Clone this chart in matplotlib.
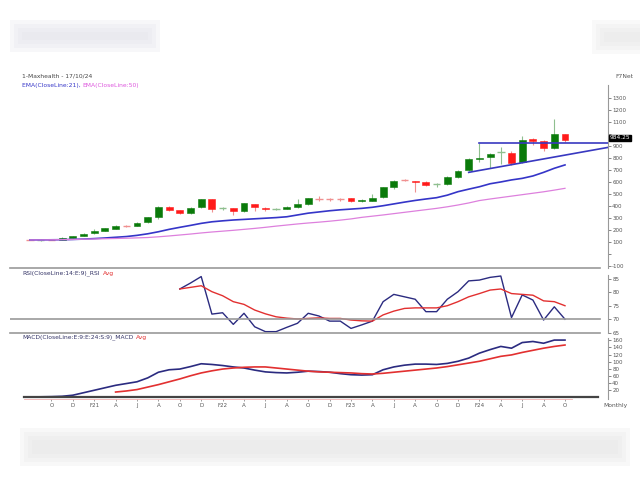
import numpy as np
import matplotlib
matplotlib.use('Agg')
from matplotlib import pyplot as plt
from matplotlib.patches import Rectangle
from matplotlib.lines import Line2D

# monthly candles Aug-2020 .. Oct-2024
opens = [118, 116, 121, 115, 137, 150, 172, 191, 212, 234, 233, 264, 311, 394, 364, 340, 389,
         456, 378, 381, 358, 414, 386, 374, 378, 389, 417, 464, 458, 456, 467, 439, 444, 472,
         556, 620, 608, 600, 579, 583, 639, 700, 789, 806, 850, 844, 769, 956, 942, 881, 997]
highs = [120, 122, 122, 138, 152, 171, 212, 216, 240, 238, 263, 308, 396, 398, 367, 390, 462,
         460, 392, 384, 428, 417, 390, 382, 398, 456, 470, 480, 465, 468, 470, 456, 500, 562,
         620, 625, 612, 606, 595, 650, 700, 800, 922, 838, 894, 855, 983, 965, 950, 1122, 1000]
lows = [114, 112, 113, 113, 134, 148, 168, 188, 208, 228, 230, 262, 290, 360, 330, 335, 380,
        350, 370, 328, 352, 355, 358, 370, 372, 380, 408, 445, 442, 440, 432, 435, 440, 466,
        545, 605, 514, 565, 560, 578, 632, 690, 770, 714, 753, 745, 762, 910, 862, 875, 935]
closes = [117, 120, 115, 136, 150, 168, 191, 213, 236, 232, 260, 305, 394, 367, 338, 386, 456,
          376, 382, 355, 422, 390, 378, 377, 394, 417, 464, 460, 455, 454, 439, 450, 469, 556,
          608, 615, 600, 575, 583, 642, 692, 789, 797, 831, 855, 761, 947, 939, 881, 997, 950]

ema21 = [117, 117, 118, 119, 121, 124, 128, 133, 139, 145, 155, 168, 185, 205, 222, 238, 255,
         268, 276, 283, 288, 293, 298, 303, 310, 325, 340, 350, 360, 368, 374, 380, 389, 402,
         417, 432, 446, 458, 469, 490, 519, 540, 560, 585, 600, 617, 630, 650, 680, 714, 742]
ema50 = [117, 117, 118, 119, 121, 123, 125, 127, 129, 131, 134, 137, 143, 150, 158, 166, 175,
         183, 190, 197, 205, 213, 222, 232, 241, 250, 258, 265, 273, 282, 292, 305, 315, 325,
         336, 347, 358, 369, 380, 393, 408, 425, 445, 458, 470, 482, 494, 506, 518, 532, 547]

# RSI starts Oct-2021 (index 14)
rsi = [81.3, 83.5, 85.9, 72.0, 72.5, 68.2, 72.3, 67.3, 65.5, 65.5, 67.1, 68.6, 72.3, 71.3,
       69.4, 69.4, 66.7, 68.0, 69.4, 76.6, 79.3, 78.4, 77.5, 72.9, 72.9, 77.5, 80.3, 84.3,
       84.6, 85.6, 86.1, 70.7, 79.1, 77.2, 69.8, 74.7, 70.1]
rsi_avg = [81.3, 81.9, 82.5, 80.3, 78.8, 76.6, 75.6, 73.5, 72.1, 71.0, 70.5, 70.2, 70.4, 70.6,
           70.4, 70.4, 69.8, 69.5, 69.4, 71.7, 73.1, 74.1, 74.3, 74.3, 74.3, 75.1, 76.6, 78.4,
           79.6, 80.9, 81.3, 79.6, 79.3, 79.0, 76.9, 76.6, 75.1]

macd = [0, 0.5, 1, 2, 5, 12, 19, 26, 33, 38, 43, 54, 70, 77, 79, 86, 94, 92, 89, 85, 82, 76,
        71, 69, 68, 70, 73, 72, 70, 66, 63, 62, 63, 77, 85, 90, 93, 93, 92, 95, 101, 110, 124,
        134, 143, 138, 154, 157, 152, 161, 161]
# signal starts Apr-2021 (index 8)
macd_avg = [14, 17, 21, 28, 35, 43, 51, 60, 68, 74, 79, 82, 84, 85, 85, 82, 79, 76, 73, 71,
            70, 69, 68, 66, 65, 67, 70, 73, 76, 79, 82, 86, 91, 96, 101, 108, 115, 119, 126,
            132, 138, 143, 147]

month_labels = ['O', 'D', 'F21', 'A', 'J', 'A', 'O', 'D', 'F22', 'A', 'J', 'A', 'O', 'D',
                'F23', 'A', 'J', 'A', 'O', 'D', 'F24', 'A', 'J', 'A', 'O']

W, H = 640, 479
fig = plt.figure(figsize=(6.4, 4.79), dpi=100)


def fx(px):
    return px / W


def fy(py):
    return 1 - py / H


# soft blurred bands of the page around the chart
def band(x, y, w, h, col):
    for k in range(4):
        d = 4 * k
        fig.patches.append(Rectangle((fx(x + d), fy(y + h - d)), fx(w - 2 * d), fy(y + d) - fy(y + h - d),
                                     transform=fig.transFigure, color=col, alpha=0.25, lw=0, zorder=0))


band(10, 20, 150, 32, '#e2e2ea')
band(592, 20, 60, 34, '#e8e8e8')
band(20, 428, 610, 38, '#e6e6e6')

left = fx(10)
width = fx(608) - left
x0 = (10 - 30) / 10.7
x1 = (608 - 30) / 10.7

ax1 = fig.add_axes([left, fy(268), width, fy(85) - fy(268)])
ax2 = fig.add_axes([left, fy(333), width, fy(268) - fy(333)], sharex=ax1)
ax3 = fig.add_axes([left, fy(399), width, fy(333) - fy(399)], sharex=ax1)

for a in (ax1, ax2, ax3):
    a.patch.set_alpha(0)
    for s in ('top', 'left', 'bottom'):
        a.spines[s].set_visible(False)
    a.spines['right'].set_color('#999999')
    a.spines['right'].set_linewidth(0.8)
    a.yaxis.tick_right()
    a.tick_params(axis='y', labelsize=4, colors='#555555', length=2, width=0.5, pad=1)
    a.tick_params(axis='x', bottom=False, labelbottom=False)

ax1.set_xlim(x0, x1)

# candles
x = np.arange(len(opens))
for i in x:
    o, h, l, c = opens[i], highs[i], lows[i], closes[i]
    up = c >= o
    body = '#0a7a0a' if up else '#ff1a1a'
    wick = '#8fbf8f' if up else '#f09090'
    doji = abs(c - o) < 8
    ax1.vlines(i, l, h, color=wick, lw=0.8, zorder=2)
    if doji:
        ax1.hlines((o + c) / 2, i - 0.35, i + 0.35, color=wick, lw=1.0, zorder=2)
    else:
        ax1.bar(i, abs(c - o), bottom=min(o, c), width=0.65, color=body, edgecolor=body,
                lw=0.4, zorder=3)

ax1.plot(x, ema21, color='#3535c8', lw=1.2, zorder=4)
ax1.plot(x, ema50, color='#dd80dd', lw=0.9, zorder=4)
# trendlines
ax1.plot([41, x1], [680, 888], color='#3838c0', lw=1.2, zorder=5)
ax1.plot([42, x1], [922, 922], color='#3838c0', lw=1.2, zorder=5)

ax1.set_ylim(-117, 1408)
pt = [-100, 0, 100, 200, 300, 400, 500, 600, 700, 800, 900, 1000, 1100, 1200, 1300]
ax1.set_yticks(pt)
# 0 has no label; 1000 sits under the last-price box
ax1.set_yticklabels(['' if v in (0, 1000) else str(v) for v in pt])
ax1.text(1.003, 967, '984.25', transform=ax1.get_yaxis_transform(), fontsize=4.2,
         color='white', va='center', ha='left', zorder=10,
         bbox=dict(boxstyle='square,pad=0.15', fc='black', ec='black'))

# RSI
xr = np.arange(14, 14 + len(rsi))
ax2.plot(xr, rsi, color='#2b2b80', lw=1.0)
ax2.plot(xr, rsi_avg, color='#e23030', lw=1.0)
ax2.axhline(70, xmin=0, xmax=(600 - 10) / (608 - 10), color='#999999', lw=1.2)
ax2.set_ylim(65, 89.07)
ax2.set_yticks([65, 70, 75, 80, 85])
ax2.spines['right'].set_bounds(65, 86.5)

# MACD
ax3.plot(x, macd, color='#2b2b80', lw=1.2)
xm = np.arange(8, 8 + len(macd_avg))
ax3.plot(xm, macd_avg, color='#e23030', lw=1.2)
ax3.axhline(0, xmin=(24 - 10) / 598, xmax=(598 - 10) / 598, color='#444444', lw=1.6)
ax3.set_ylim(-5.7, 181)
ax3.set_yticks([20, 40, 60, 80, 100, 120, 140, 160])
ax3.spines['right'].set_bounds(-5.7, 167)
ax3.spines['bottom'].set_visible(True)
ax3.spines['bottom'].set_color('#f2b0b0')
ax3.spines['bottom'].set_linewidth(0.6)
ax3.spines['bottom'].set_bounds((24 - 30) / 10.7, (572 - 30) / 10.7)
ax3.set_xticks(np.arange(2, 51, 2))
ax3.set_xticklabels(month_labels)
ax3.tick_params(axis='x', bottom=True, labelbottom=True, labelsize=4, colors='#555555',
                length=1.5, width=0.4, pad=1.5)
for t in ax3.get_xticklines():
    t.set_color('#f2b0b0')

# separators
for yy in (268, 333):
    fig.add_artist(Line2D([fx(10), fx(600)], [fy(yy), fy(yy)], color='#999999', lw=1.2))

# texts
fs = 4.3
fig.text(fx(22), fy(76), '1-Maxhealth - 17/10/24', fontsize=fs, color='#444444', va='center')
fig.text(fx(22), fy(86), 'EMA(CloseLine:21), ', fontsize=fs, color='#3535c8', va='center')
fig.text(fx(82), fy(86), 'EMA(CloseLine:50)', fontsize=fs, color='#dd55dd', va='center')
fig.text(fx(615), fy(76), 'F7Net', fontsize=fs, color='#555555', va='center')
fig.text(fx(22), fy(273), 'RSI(CloseLine:14:E:9)_RSI', fontsize=fs, color='#333366', va='center')
fig.text(fx(103), fy(273), 'Avg', fontsize=fs, color='#e23030', va='center')
fig.text(fx(22), fy(337), 'MACD(CloseLine:E:9:E:24:S:9)_MACD', fontsize=fs, color='#333366',
         va='center')
fig.text(fx(136), fy(337), 'Avg', fontsize=fs, color='#e23030', va='center')
fig.text(fx(603), fy(406), 'Monthly', fontsize=fs, color='#555555', va='center')

fig.savefig('out.png', dpi=100, facecolor='white')
